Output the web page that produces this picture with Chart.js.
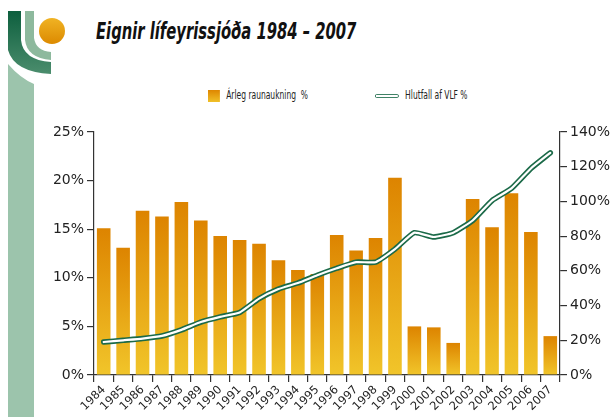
<!DOCTYPE html>
<html lang="is">
<head>
<meta charset="UTF-8">
<title>Eignir lífeyrissjóða 1984 – 2007</title>
<script src="https://cdn.jsdelivr.net/npm/chart.js"></script>
<style>
  body { margin: 0; background: #fff; width: 613px; height: 417px; overflow: hidden; position: relative; font-family: "DejaVu Sans", sans-serif; font-stretch: condensed; color: #222; }
  #logo { position: absolute; left: 0; top: 0; }
  #title { position: absolute; left: 96px; top: 18px; font-family: "DejaVu Sans", sans-serif; font-stretch: condensed; font-weight: bold; font-style: italic; font-size: 22.5px; color: #111;
           transform: scaleX(0.73); transform-origin: left top; white-space: nowrap; }
  .leg { position: absolute; top: 88px; font-size: 12px; color: #222; white-space: nowrap; transform: scaleX(0.7); transform-origin: left top; }
  .sw { display: inline-block; vertical-align: middle; margin-right: 9px; }
  #chartBox { position: absolute; left: 0; top: 0; width: 613px; height: 417px; }
</style>
</head>
<body>
<svg id="logo" width="70" height="417">
  <defs>
    <linearGradient id="sun" x1="0" y1="0" x2="0" y2="1">
      <stop offset="0" stop-color="#f0b324"/>
      <stop offset="1" stop-color="#dc8a00"/>
    </linearGradient>
    <linearGradient id="dk" x1="0" y1="0" x2="0" y2="1">
      <stop offset="0" stop-color="#0d5f3e"/>
      <stop offset="1" stop-color="#4b8d6d"/>
    </linearGradient>
  </defs>
  <!-- pale band -->
  <path d="M8 64 Q20 78 34 84 L34 417 L8 417 Z" fill="#9cc4ac"/>
  <!-- dark curve -->
  <path d="M8 11 L21 11 L21 40 Q23 60 51 62 L51 74 Q14 72 8 50 Z" fill="url(#dk)"/>
  <!-- mid curve -->
  <path d="M25 11 L34 11 L34 38 Q36 51 51 52 L51 60 Q27 58 25 40 Z" fill="#8db99d"/>
  <circle cx="52" cy="31" r="13" fill="url(#sun)"/>
</svg>

<div id="title">Eignir lífeyrissjóða 1984 – 2007</div>
<div class="leg" style="left:208px"><span class="sw" style="width:17px;height:12px;background:linear-gradient(#de8600,#f0c028)"></span>Árleg raunaukning&nbsp; %</div>
<div class="leg" style="left:375px"><span class="sw" style="width:32px;height:2px;border:1.5px solid #1d6b4a;border-radius:3px;background:#fff"></span>Hlutfall af VLF %</div>

<div id="chartBox"><canvas id="chart" width="613" height="417"></canvas></div>

<script>
  const years = ['1984','1985','1986','1987','1988','1989','1990','1991','1992','1993','1994','1995',
                 '1996','1997','1998','1999','2000','2001','2002','2003','2004','2005','2006','2007'];
  // annual real growth, % (left axis)
  const growth = [15.1, 13.1, 16.9, 16.3, 17.8, 15.9, 14.3, 13.9, 13.5, 11.8, 10.8, 10.4,
                  14.4, 12.8, 14.1, 20.3, 5.0, 4.9, 3.3, 18.1, 15.2, 18.7, 14.7, 4.0];
  // assets as share of GDP, % (right axis)
  const shareGdp = [19, 20, 21, 22.5, 26, 30.5, 33.5, 36, 44, 49.5, 53, 57.5,
                    61.5, 65, 65, 72.5, 82, 79.5, 82, 89, 100.5, 107.5, 119, 128];
  const leftTicks = [0, 5, 10, 15, 20, 25];
  const rightTicks = [0, 20, 40, 60, 80, 100, 120, 140];

  const fam = '"DejaVu Sans", sans-serif';
  const tickFont = { family: fam, style: 'condensed', size: 14 };
  const axisColor = '#333';

  function barFill(ctx) {
    const chart = ctx.chart;
    if (!chart.chartArea || ctx.type !== 'data') return '#e4a010';
    const ys = chart.scales.y;
    const top = ys.getPixelForValue(ctx.raw);
    const base = ys.getPixelForValue(0);
    if (!isFinite(top) || top === base) return '#e4a010';
    const g = chart.ctx.createLinearGradient(0, top, 0, base);
    g.addColorStop(0, '#dd8400');
    g.addColorStop(1, '#f1c52a');
    return g;
  }

  new Chart(document.getElementById('chart'), {
    data: {
      labels: years,
      datasets: [
        { type: 'bar', data: growth, yAxisID: 'y', backgroundColor: barFill,
          barPercentage: 0.7, categoryPercentage: 1, order: 3 },
        { type: 'line', data: shareGdp, yAxisID: 'y2', borderColor: '#1b6a48', borderWidth: 5.5,
          pointRadius: 0, tension: 0.15, borderCapStyle: 'round', borderJoinStyle: 'round', order: 2 },
        { type: 'line', data: shareGdp, yAxisID: 'y2', borderColor: '#ffffff', borderWidth: 2.2,
          pointRadius: 0, tension: 0.15, borderCapStyle: 'round', borderJoinStyle: 'round', order: 1 }
      ]
    },
    options: {
      responsive: false,
      animation: false,
      devicePixelRatio: 1,
      layout: { padding: { top: 132, left: 0, right: 0, bottom: 0 } },
      plugins: { legend: { display: false }, tooltip: { enabled: false } },
      scales: {
        x: {
          grid: { display: true, drawOnChartArea: false, offset: true, tickLength: 7, color: axisColor, lineWidth: 1.2 },
          border: { display: true, color: axisColor, width: 1.2 },
          ticks: { color: '#222', font: { family: fam, style: 'condensed', size: 11.5 }, maxRotation: 45, minRotation: 45, autoSkip: false, padding: 1 },
          afterFit: s => { s.height = 42; }
        },
        y: {
          position: 'left', min: 0, max: 25,
          afterBuildTicks: s => { s.ticks = leftTicks.map(v => ({ value: v })); },
          grid: { drawOnChartArea: false, tickLength: 7, color: axisColor, lineWidth: 1.2 },
          border: { display: true, color: axisColor, width: 1.2 },
          ticks: { color: '#222', font: tickFont, padding: 3, callback: v => v + '%' },
          afterFit: s => { s.width = 94; }
        },
        y2: {
          position: 'right', min: 0, max: 140,
          afterBuildTicks: s => { s.ticks = rightTicks.map(v => ({ value: v })); },
          grid: { drawOnChartArea: false, tickLength: 7, color: axisColor, lineWidth: 1.2 },
          border: { display: true, color: axisColor, width: 1.2 },
          ticks: { color: '#222', font: tickFont, padding: 3, callback: v => v + '%' },
          afterFit: s => { s.width = 53; }
        }
      }
    }
  });
</script>
</body>
</html>
